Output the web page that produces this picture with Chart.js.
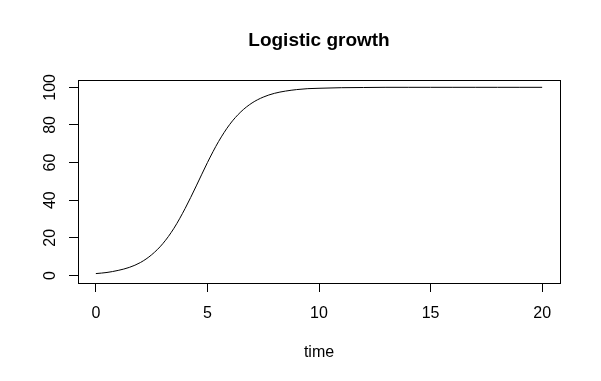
<!DOCTYPE html>
<html>
<head>
<meta charset="utf-8">
<script src="https://cdn.jsdelivr.net/npm/chart.js@4"></script>
<style>
    body { margin: 0; background: #fff; }
    canvas { display: block; }
</style>
</head>
<body>
<canvas id="growthChart" width="601" height="381"></canvas>
<script>
// Values
const timePoints = [0, 0.5, 1, 1.5, 2, 2.5, 3, 3.5, 4, 4.5, 5, 5.5, 6, 6.5, 7, 7.5, 8, 8.5, 9, 9.5, 10,
    11, 12, 13, 14, 15, 16, 17, 18, 19, 20];
const population = [1.0, 1.6, 2.7, 4.3, 6.9, 11.0, 16.9, 25.1, 35.6, 47.6, 60.0, 71.2, 80.3, 87.0, 91.7, 94.8, 96.8, 98.0, 98.8, 99.3, 99.5,
    99.8, 99.9, 100, 100, 100, 100, 100, 100, 100, 100];
const xTicks = [0, 5, 10, 15, 20];
const yTicks = [0, 20, 40, 60, 80, 100];

const font = 'Arial, "Liberation Sans", sans-serif';

// R style box around the plot region
const boxPlugin = {
    id: 'plotBox',
    afterDraw(chart) {
        const a = chart.chartArea;
        const ctx = chart.ctx;
        ctx.save();
        ctx.strokeStyle = '#000';
        ctx.lineWidth = 1;
        ctx.strokeRect(Math.round(a.left) + 0.5, Math.round(a.top) + 0.5,
            Math.round(a.right - a.left), Math.round(a.bottom - a.top));
        ctx.restore();
    }
};

const ctx = document.getElementById('growthChart').getContext('2d');
new Chart(ctx, {
    type: 'line',
    data: {
        datasets: [{
            data: timePoints.map((t, i) => ({ x: t, y: population[i] })),
            borderColor: '#000',
            borderWidth: 1,
            pointRadius: 0,
            fill: false,
            cubicInterpolationMode: 'monotone'
        }]
    },
    options: {
        responsive: false,
        animation: false,
        layout: { padding: { left: 0, right: 41, top: 0, bottom: 0 } },
        plugins: {
            legend: { display: false },
            tooltip: { enabled: false },
            title: {
                display: true,
                fullSize: false,
                text: 'Logistic growth',
                color: '#000',
                font: { family: font, size: 19, weight: 'bold' },
                padding: { top: 29, bottom: 28 }
            }
        },
        scales: {
            x: {
                type: 'linear',
                min: -0.8,
                max: 20.8,
                afterBuildTicks: s => { s.ticks = xTicks.map(v => ({ value: v })); },
                afterFit: s => { s.height = 98; },
                grid: { drawOnChartArea: false, color: '#000', tickLength: 9, tickColor: '#000' },
                border: { display: false },
                ticks: { color: '#000', font: { family: font, size: 16 }, padding: 12, maxRotation: 0 },
                title: {
                    display: true,
                    text: 'time',
                    color: '#000',
                    font: { family: font, size: 16 },
                    padding: { top: 0, bottom: 19 }
                }
            },
            y: {
                min: -4,
                max: 104,
                afterBuildTicks: s => { s.ticks = yTicks.map(v => ({ value: v })); },
                afterFit: s => { s.width = 78; },
                grid: { drawOnChartArea: false, color: '#000', tickLength: 9, tickColor: '#000' },
                border: { display: false },
                ticks: { color: '#000', font: { family: font, size: 16 }, padding: 5.5, crossAlign: 'center', minRotation: 90, maxRotation: 90 }
            }
        }
    },
    plugins: [boxPlugin]
});
</script>
</body>
</html>
